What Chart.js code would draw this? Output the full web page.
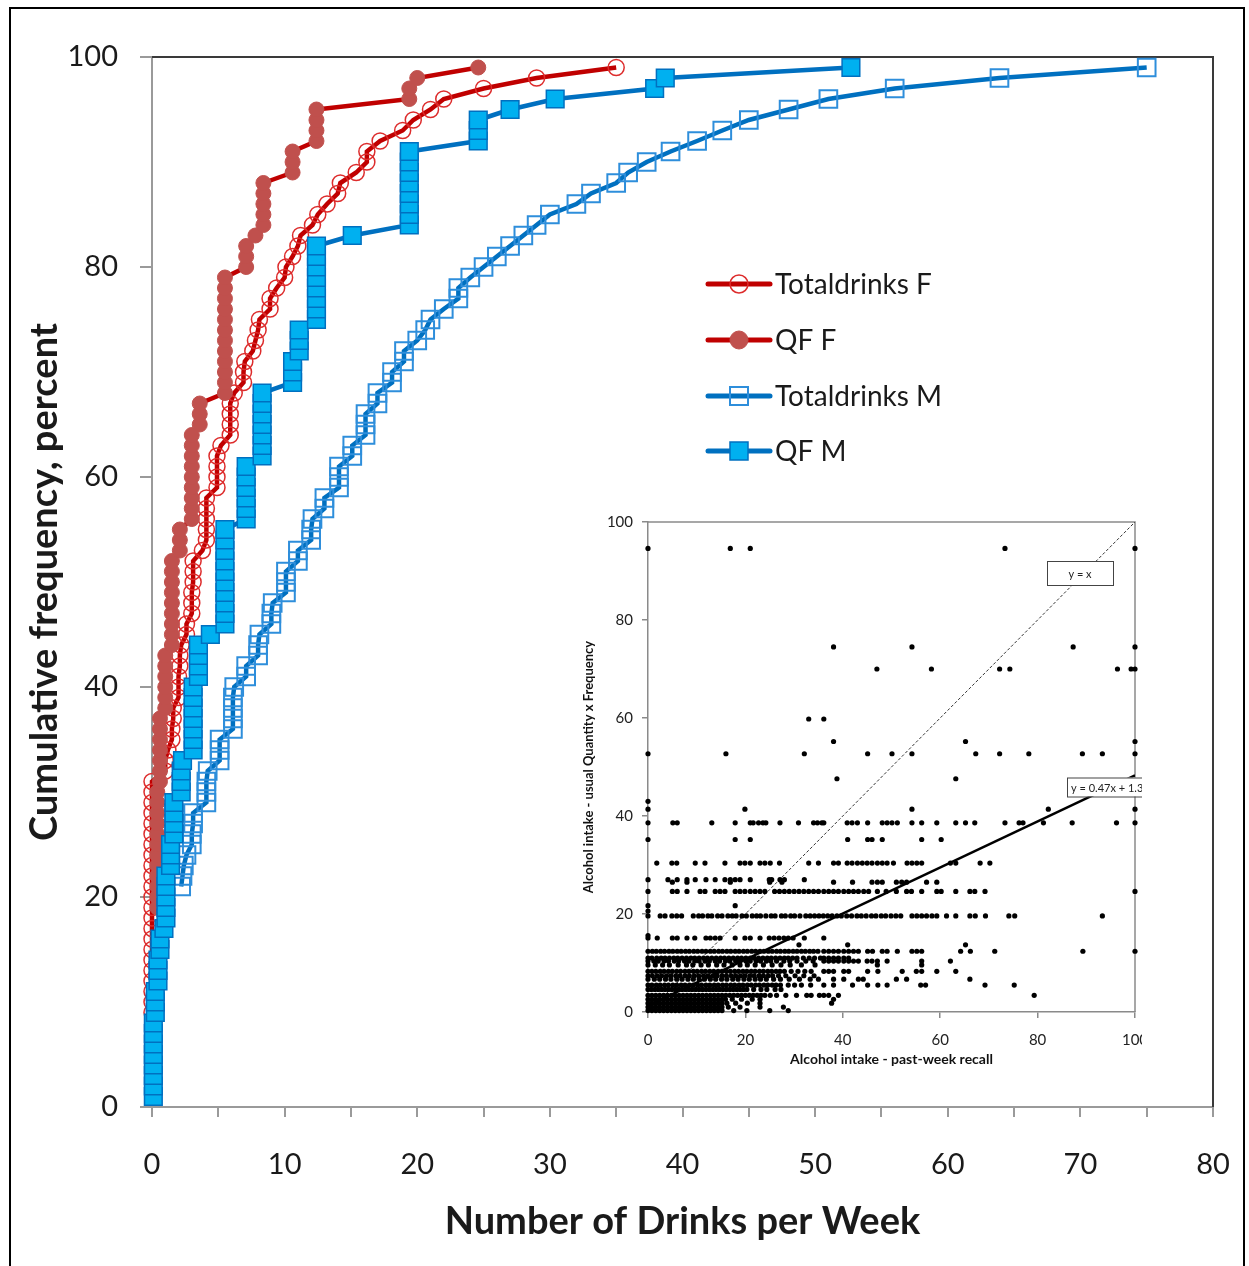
<!DOCTYPE html>
<html>
<head>
<meta charset="utf-8">
<title>Cumulative frequency of drinks per week</title>
<script src="https://cdn.jsdelivr.net/npm/chart.js@4.4.1/dist/chart.umd.min.js"></script>
<style>
  html, body { margin: 0; padding: 0; background: #fff; overflow: hidden; }
  #page { position: relative; width: 1249px; height: 1266px; }
  #mainChart { position: absolute; left: 0; top: 0; }
  #frame { position: absolute; left: 9px; top: 7px; width: 1236px; height: 1300px;
           border: 2px solid #000; box-sizing: border-box; pointer-events: none; }
  #insetBox { position: absolute; left: 578px; top: 510px; width: 564px; height: 566px;
              overflow: hidden; background: #fff; }
  #insetChart { position: absolute; left: 0; top: 0; }
</style>
</head>
<body>
<div id="page">
  <canvas id="mainChart" width="1249" height="1266"></canvas>
  <div id="insetBox"><canvas id="insetChart" width="620" height="566"></canvas></div>
  <div id="frame"></div>
</div>

<script>
// ---- main chart: cumulative frequency (%) vs drinks per week ----
const seriesNames = ['Totaldrinks F', 'QF F', 'Totaldrinks M', 'QF M'];

// Totaldrinks F (open red circles)
const totalF_drinks = [0,0,0,0,0,0,0,0,0,0,0,0,0,0,0,0,0,0,0,0,0,0,0,
  1.0,1.0,1.2,1.5,1.5,1.6,1.6,2.0,2.0,2.0,2.1,2.1,2.2,2.6,2.6,3.0,3.0,3.0,3.1,3.1,3.1,3.8,
  4.1,4.1,4.1,4.1,4.1,4.9,4.9,4.9,4.9,5.2,5.9,5.9,5.9,5.9,6.2,6.9,6.9,7.0,7.6,7.8,8.0,8.1,
  8.9,8.9,9.4,10.0,10.1,10.6,11.0,11.2,12.1,12.5,13.2,14.0,14.2,15.4,16.2,16.2,17.2,18.9,
  19.7,21.0,22.0,25.0,29.0,35.0];
const totalF_cum = [9,10,11,12,13,14,15,16,17,18,19,20,21,22,23,24,25,26,27,28,29,30,31,
  32,33,34,35,36,37,38,39,40,41,42,43,44,45,46,47,48,49,50,51,52,53,
  54,55,56,57,58,59,60,61,62,63,64,65,66,67,68,69,70,71,72,73,74,75,
  76,77,78,79,80,81,82,83,84,85,86,87,88,89,90,91,92,93,
  94,95,96,97,98,99];

// QF F (filled red circles)
const qfF_drinks = [0.4,0.4,0.4,0.4,0.4,0.4,0.4,0.4,0.4,0.4,0.4,0.4,
  0.6,0.6,0.6,0.6,0.6,0.6,0.6,1.0,1.0,1.0,1.0,1.0,1.0,
  1.5,1.5,1.5,1.5,1.5,1.5,1.5,1.5,1.5,2.1,2.1,2.1,
  3.0,3.0,3.0,3.0,3.0,3.0,3.0,3.0,3.0,3.6,3.6,3.6,
  5.5,5.5,5.5,5.5,5.5,5.5,5.5,5.5,5.5,5.5,5.5,5.5,
  7.1,7.1,7.1,7.8,8.4,8.4,8.4,8.4,8.4,10.6,10.6,10.6,
  12.4,12.4,12.4,12.4,19.4,19.4,20.0,24.6];
const qfF_cum = [19,20,21,22,23,24,25,26,27,28,29,30,
  31,32,33,34,35,36,37,38,39,40,41,42,43,
  44,45,46,47,48,49,50,51,52,53,54,55,
  56,57,58,59,60,61,62,63,64,65,66,67,
  68,69,70,71,72,73,74,75,76,77,78,79,
  80,81,82,83,84,85,86,87,88,89,90,91,
  92,93,94,95,96,97,98,99];

// Totaldrinks M (open blue squares)
const totalM_drinks = [2.2,2.3,2.4,2.6,3.0,3.0,3.1,3.1,4.1,4.1,4.1,4.2,5.1,5.1,5.1,
  6.1,6.1,6.1,6.1,6.2,7.1,7.1,8.0,8.0,8.1,9.0,9.0,9.1,10.1,10.1,10.1,11.0,11.0,
  12.0,12.0,12.1,13.0,13.0,14.1,14.1,14.1,15.1,15.1,16.1,16.1,16.1,17.0,17.0,
  18.1,18.1,19.0,19.0,20.0,20.6,21.0,22.0,23.1,23.1,24.0,25.0,26.0,27.0,28.0,
  29.0,30.0,32.0,33.1,35.0,35.9,37.3,39.1,41.1,43.0,45.0,48.0,51.0,56.0,63.9,75.0];
const totalM_cum = [21,22,23,24,25,26,27,28,29,30,31,32,33,34,35,
  36,37,38,39,40,41,42,43,44,45,46,47,48,49,50,51,52,53,
  54,55,56,57,58,59,60,61,62,63,64,65,66,67,68,
  69,70,71,72,73,74,75,76,77,78,79,80,81,82,83,
  84,85,86,87,88,89,90,91,92,93,94,95,96,97,98,99];

// QF M (filled blue squares)
const qfM_drinks = [0.1,0.1,0.1,0.1,0.1,0.1,0.1,0.1,0.25,0.25,0.25,0.45,0.45,0.45,
  0.6,0.6,0.9,1.05,1.05,1.05,1.05,1.05,1.4,1.4,1.4,1.65,1.65,1.65,1.65,
  2.2,2.2,2.2,2.3,3.1,3.1,3.1,3.1,3.1,3.1,3.1,3.5,3.5,3.5,3.5,4.4,
  5.5,5.5,5.5,5.5,5.5,5.5,5.5,5.5,5.5,5.5,7.1,7.1,7.1,7.1,7.1,7.1,
  8.3,8.3,8.3,8.3,8.3,8.3,8.3,10.6,10.6,10.6,11.1,11.1,11.1,
  12.4,12.4,12.4,12.4,12.4,12.4,12.4,12.4,15.1,
  19.4,19.4,19.4,19.4,19.4,19.4,19.4,19.4,24.6,24.6,24.6,27.0,30.4,37.9,38.7,52.7];
const qfM_cum = [1,2,3,4,5,6,7,8,9,10,11,12,13,14,
  15,16,17,18,19,20,21,22,23,24,25,26,27,28,29,
  30,31,32,33,34,35,36,37,38,39,40,41,42,43,44,45,
  46,47,48,49,50,51,52,53,54,55,56,57,58,59,60,61,
  62,63,64,65,66,67,68,69,70,71,72,73,74,
  75,76,77,78,79,80,81,82,83,
  84,85,86,87,88,89,90,91,92,93,94,95,96,97,98,99];

const xTicksMain = [0, 10, 20, 30, 40, 50, 60, 70, 80];
const yTicksMain = [0, 20, 40, 60, 80, 100];

// ---- inset: QF estimate vs past-week recall ----
const qfLevels = [94.6, 74.5, 70.0, 59.8, 55.2, 52.7, 47.6, 43.0, 41.4, 38.6, 35.2,
  30.4, 27.0, 26.5, 24.6, 21.7, 20.6, 19.6, 15.6, 15.1, 13.7, 12.4, 11.0, 10.4, 9.6,
  8.3, 7.4, 6.7, 5.5, 4.6, 3.4, 2.6, 1.8, 1.0, 0.3];
const recallByLevel = [
  [0, 16.9, 21.0, 73.3, 100],
  [38.1, 54.2, 87.3, 100],
  [47.0, 58.2, 72.2, 74.3, 96.4, 99.2, 100],
  [33.0, 36.1],
  [38.1, 65.2, 100],
  [0, 16.0, 32.1, 45.1, 50.1, 54.2, 67.3, 72.2, 78.2, 89.2, 93.3, 100],
  [38.8, 63.2],
  [0],
  [0, 19.9, 54.2, 82.2, 100],
  [0, 5.1, 6.0, 13.1, 17.9, 21.0, 21.6, 22.7, 23.6, 24.2, 27.1, 30.9, 34.0, 34.8, 35.7,
   36.1, 40.9, 41.9, 43.0, 45.1, 48.1, 49.1, 50.1, 51.2, 54.2, 56.2, 59.3, 63.2, 65.2,
   67.1, 73.3, 76.2, 77.0, 81.2, 87.1, 96.2, 100],
  [0, 17.9, 21.0, 41.0, 45.1, 46.0, 48.1, 56.2, 60.2],
  [1.8, 4.9, 5.9, 9.7, 11.7, 15.8, 18.9, 19.9, 21.0, 23.0, 24.0, 25.1, 27.0, 33.0, 35.0,
   38.1, 39.1, 40.9, 41.9, 43.0, 44.0, 45.0, 46.0, 47.1, 48.1, 49.1, 50.4, 53.2, 54.2,
   55.2, 56.2, 62.1, 63.2, 68.2, 70.2],
  [0, 4.1, 6.0, 8.0, 9.7, 11.9, 13.8, 15.8, 16.9, 17.9, 18.9, 21.0, 24.9, 25.4, 27.1, 28.0, 32.1],
  [5.0, 8.0, 16.9, 25.0, 27.5, 38.1, 42.0, 46.0, 47.1, 48.1, 51.0, 52.1, 53.1, 57.2, 59.3],
  [0, 5.0, 6.0, 8.0, 10.7, 11.7, 13.8, 14.8, 15.8, 17.9, 18.9, 19.9, 21.0, 22.0, 23.0, 24.0,
   26.0, 27.0, 28.0, 29.0, 30.0, 31.0, 32.0, 33.0, 34.0, 35.0, 36.1, 37.1, 38.1, 39.1, 40.2,
   41.2, 42.2, 43.2, 44.3, 45.3, 47.1, 48.9, 51.0, 53.1, 54.1, 56.2, 59.3, 60.2, 63.2, 66.1,
   67.1, 69.2, 100],
  [0, 17.9],
  [0],
  [0, 2.5, 3.5, 4.9, 5.9, 6.9, 9.3, 10.4, 11.2, 12.3, 13.1, 14.3, 15.2, 16.4, 17.3, 18.1,
   19.3, 20.2, 21.4, 22.3, 23.1, 24.2, 25.3, 26.1, 27.4, 28.2, 29.3, 30.1, 31.2, 32.4, 33.3,
   34.2, 35.1, 36.0, 36.9, 37.8, 38.8, 39.7, 40.8, 41.8, 42.9, 43.8, 44.8, 45.9, 46.8, 47.9,
   48.8, 49.9, 50.9, 51.9, 54.2, 55.2, 56.2, 57.2, 58.3, 59.3, 61.3, 63.2, 66.1, 67.2, 69.3,
   74.1, 75.3, 93.3],
  [0],
  [0, 1.9, 5.0, 6.0, 8.0, 9.6, 11.9, 12.8, 13.8, 14.8, 17.9, 19.9, 21.0, 23.0, 24.9, 25.9,
   26.9, 27.9, 28.8, 29.8, 32.1, 36.1],
  [31.0, 41.0, 65.2],
  [0, 0.9, 1.7, 2.6, 3.4, 4.3, 5.1, 6.0, 6.8, 7.7, 8.5, 9.4, 10.2, 11.1, 11.9, 12.8, 13.6,
   14.5, 15.3, 16.2, 17.0, 17.9, 18.7, 19.6, 20.4, 21.3, 22.1, 23.0, 23.8, 24.7, 25.5, 26.4,
   27.2, 28.1, 28.9, 29.8, 30.6, 31.5, 32.3, 33.2, 34.0, 34.9, 36.1, 37.1, 38.1, 39.1, 40.2,
   41.2, 42.2, 43.2, 45.1, 46.1, 48.1, 49.1, 51.2, 54.2, 55.2, 56.2, 64.2, 66.2, 71.2, 89.3, 100],
  [0, 0.8, 1.8, 2.7, 3.5, 4.4, 5.3, 6.1, 7.0, 7.9, 8.8, 9.6, 10.5, 11.4, 12.2, 13.1, 14.0,
   14.9, 15.7, 16.6, 17.5, 18.4, 19.2, 20.1, 21.0, 21.8, 22.7, 23.6, 24.5, 25.3, 26.2, 27.1,
   28.0, 28.8, 29.7, 30.6, 31.9, 33.1, 34.2, 35.4, 36.1, 37.1, 38.1, 39.1, 40.2, 41.2],
  [0, 1.2, 2.1, 3.3, 4.2, 5.4, 6.3, 7.5, 8.4, 9.6, 10.5, 11.7, 12.6, 13.8, 14.7, 15.9, 16.8,
   18.0, 18.9, 20.1, 21.0, 22.2, 23.1, 24.3, 25.2, 26.4, 27.9, 29.1, 30.6, 32.4, 33.9, 36.1,
   37.1, 38.1, 39.1, 40.2, 41.2, 42.2, 43.2, 45.0, 46.0, 47.1, 49.1, 56.2, 62.1],
  [0, 1.5, 3.0, 4.4, 6.2, 7.9, 9.2, 10.9, 12.4, 14.1, 15.6, 17.3, 18.9, 20.4, 22.0, 23.7,
   25.5, 27.3, 29.2, 31.5, 34.3, 47.1, 56.2],
  [0, 0.8, 1.6, 2.5, 3.3, 4.2, 5.0, 5.9, 6.7, 7.6, 8.4, 9.3, 10.1, 11.0, 11.8, 12.7, 13.5,
   14.4, 15.2, 16.1, 16.9, 17.8, 18.6, 19.5, 20.3, 21.2, 22.0, 22.9, 23.7, 24.6, 25.4, 26.3,
   27.1, 28.0, 29.4, 30.8, 32.2, 33.5, 36.1, 37.1, 38.1, 40.2, 41.2, 45.1, 47.2, 52.2, 55.1,
   56.2, 59.3, 63.2],
  [0, 0.9, 1.9, 2.8, 3.8, 4.7, 5.7, 6.6, 7.6, 8.5, 9.5, 10.4, 11.4, 12.3, 13.3, 14.2, 15.2,
   16.1, 17.1, 18.0, 19.0, 19.9, 20.9, 21.8, 22.8, 23.7, 24.7, 25.6, 26.8, 28.3, 30.2, 32.0, 34.1],
  [0, 1.3, 2.4, 3.6, 4.7, 5.9, 7.0, 8.2, 9.3, 10.5, 11.6, 12.8, 13.9, 15.1, 16.2, 17.4, 18.5,
   19.7, 20.8, 22.0, 23.1, 24.3, 25.8, 27.2, 29.0, 31.1, 33.3, 35.0, 38.1, 40.2, 43.2, 44.2,
   51.0, 53.1, 66.1],
  [0, 0.8, 1.7, 2.5, 3.4, 4.2, 5.1, 5.9, 6.8, 7.6, 8.5, 9.3, 10.2, 11.0, 11.9, 12.7, 13.6,
   14.4, 15.3, 16.1, 17.0, 17.8, 18.7, 19.5, 20.4, 21.2, 22.1, 22.9, 23.8, 24.6, 25.5, 26.3,
   27.2, 28.8, 30.1, 31.5, 33.4, 36.1, 38.1, 42.0, 45.1, 47.2, 49.1, 56.0, 57.0, 69.2, 75.2],
  [0, 0.7, 1.4, 2.1, 2.8, 3.5, 4.2, 4.9, 5.6, 6.3, 7.0, 7.7, 8.4, 9.1, 9.8, 10.5, 11.2, 11.9,
   12.6, 13.3, 14.0, 14.7, 15.4, 16.1, 16.8, 17.5, 18.2, 18.9, 19.6, 20.3, 21.7, 23.2, 24.4,
   26.1, 27.3],
  [0, 0.8, 1.6, 2.4, 3.2, 4.0, 4.8, 5.6, 6.4, 7.2, 8.0, 8.8, 9.6, 10.4, 11.2, 12.0, 12.8,
   13.6, 14.4, 15.2, 16.0, 16.8, 17.6, 18.4, 19.2, 20.0, 20.8, 21.6, 22.4, 23.2, 24.0, 25.1,
   26.4, 28.3, 30.5, 32.6, 33.5, 35.2, 36.1, 37.1, 39.1, 79.3],
  [0, 0.8, 1.6, 2.4, 3.2, 4.0, 4.8, 5.6, 6.4, 7.2, 8.0, 8.8, 9.6, 10.4, 11.2, 12.0, 12.8,
   13.6, 14.4, 15.2, 15.9, 17.3, 19.2, 21.4, 23.0, 38.1],
  [0, 0.8, 1.6, 2.4, 3.2, 4.0, 4.8, 5.6, 6.4, 7.2, 8.0, 8.8, 9.6, 10.4, 11.2, 12.0, 12.8,
   13.6, 14.4, 15.2, 16.2, 18.0, 20.4, 23.0, 37.7],
  [0, 0.8, 1.6, 2.4, 3.2, 4.0, 4.8, 5.6, 6.4, 7.2, 8.0, 8.8, 9.6, 10.4, 11.2, 12.0, 12.8,
   13.6, 14.4, 15.2, 16.5, 18.9, 23.0, 27.8],
  [0, 0.8, 1.6, 2.4, 3.2, 4.0, 4.8, 5.6, 6.4, 7.2, 8.0, 8.8, 9.6, 10.4, 11.2, 12.0, 12.8,
   13.6, 14.4, 15.2, 17.6, 20.3, 25.0, 28.8]
];
const fitSlope = 0.47;
const fitIntercept = 1.3;
const insetTicks = [0, 20, 40, 60, 80, 100];

// ---- helpers ----
const FONT = 'Lato, "Open Sans", sans-serif';
const toPoints = (xs, ys) => xs.map((x, i) => ({ x: x, y: ys[i] }));

const RED_LINE = '#C00000', RED_RING = '#DD2C2C', RED_FILL = '#C0504D';
const BLUE_LINE = '#0070C0', BLUE_RING = '#2E8EDB', BLUE_FILL = '#00B0F0';

// keep label overflow from pushing the plot area around
const noLabelPadding = s => { s.paddingLeft = 0; s.paddingRight = 0; s.paddingTop = 0; s.paddingBottom = 0; };

// top and right border of the plot area
const plotFrame = {
  id: 'plotFrame',
  beforeDatasetsDraw(chart, args, opts) {
    const a = chart.chartArea, ctx = chart.ctx;
    ctx.save();
    ctx.strokeStyle = opts.color;
    ctx.lineWidth = opts.width;
    ctx.beginPath();
    ctx.moveTo(a.left, a.top);
    ctx.lineTo(a.right, a.top);
    ctx.lineTo(a.right, a.bottom);
    ctx.stroke();
    ctx.restore();
  }
};

// legend drawn inside the plot, Excel style
const insideLegend = {
  id: 'insideLegend',
  afterDatasetsDraw(chart) {
    const ctx = chart.ctx;
    const x0 = 708, x1 = 770, xm = 739, tx = 775;
    const rows = [284, 340, 396, 451];
    ctx.save();
    chart.data.datasets.forEach((ds, i) => {
      const y = rows[i];
      ctx.strokeStyle = ds.borderColor;
      ctx.lineWidth = 5;
      ctx.lineCap = 'round';
      ctx.beginPath(); ctx.moveTo(x0, y); ctx.lineTo(x1, y); ctx.stroke();
      ctx.lineCap = 'butt';
      ctx.lineWidth = ds.pointBorderWidth;
      ctx.strokeStyle = ds.pointBorderColor;
      ctx.fillStyle = ds.pointBackgroundColor;
      ctx.beginPath();
      if (ds.pointStyle === 'circle') ctx.arc(xm, y, 9, 0, Math.PI * 2);
      else ctx.rect(xm - 9, y - 9, 18, 18);
      ctx.fill(); ctx.stroke();
      ctx.fillStyle = '#1a1a1a';
      ctx.font = '28px ' + FONT;
      ctx.textBaseline = 'middle';
      ctx.fillText(ds.label, tx, y + 1);
    });
    ctx.restore();
  }
};

new Chart(document.getElementById('mainChart'), {
  type: 'line',
  data: {
    datasets: [
      { label: seriesNames[0], data: toPoints(totalF_drinks, totalF_cum), order: 4,
        borderColor: RED_LINE, borderWidth: 4.5, pointStyle: 'circle', pointRadius: 8,
        pointBorderColor: RED_RING, pointBackgroundColor: 'rgba(255,255,255,0)', pointBorderWidth: 1.5 },
      { label: seriesNames[1], data: toPoints(qfF_drinks, qfF_cum), order: 3,
        borderColor: RED_LINE, borderWidth: 4.5, pointStyle: 'circle', pointRadius: 7.5,
        pointBorderColor: RED_FILL, pointBackgroundColor: RED_FILL, pointBorderWidth: 1 },
      { label: seriesNames[2], data: toPoints(totalM_drinks, totalM_cum), order: 2,
        borderColor: BLUE_LINE, borderWidth: 4.5, pointStyle: 'rect', pointRadius: 12.5,
        pointBorderColor: BLUE_RING, pointBackgroundColor: 'rgba(255,255,255,0)', pointBorderWidth: 2 },
      { label: seriesNames[3], data: toPoints(qfM_drinks, qfM_cum), order: 1,
        borderColor: BLUE_LINE, borderWidth: 4.5, pointStyle: 'rect', pointRadius: 12.5,
        pointBorderColor: BLUE_LINE, pointBackgroundColor: BLUE_FILL, pointBorderWidth: 1.5 }
    ].map(d => Object.assign(d, { tension: 0, fill: false, clip: false, pointHoverRadius: d.pointRadius }))
  },
  options: {
    responsive: false,
    animation: false,
    devicePixelRatio: 1,
    events: [],
    layout: { padding: { left: 10, top: 57, right: 36, bottom: 0 } },
    plugins: {
      legend: { display: false },
      tooltip: { enabled: false },
      plotFrame: { color: '#3a3a3a', width: 2 }
    },
    scales: {
      x: {
        type: 'linear', min: 0, max: 80,
        afterBuildTicks: s => {
          const t = [];
          for (let v = 0; v <= 80; v += 5) t.push({ value: v });
          s.ticks = t;
        },
        ticks: {
          autoSkip: false, maxRotation: 0, padding: 30, color: '#1a1a1a',
          font: { family: FONT, size: 29 },
          callback: v => xTicksMain.includes(v) ? String(v) : ''
        },
        grid: { drawOnChartArea: false, tickLength: 10, color: '#9a9a9a', lineWidth: 2 },
        border: { color: '#9a9a9a', width: 2 },
        title: { display: true, text: 'Number of Drinks per Week', color: '#1a1a1a',
                 font: { family: FONT, size: 38, weight: 'bold' }, padding: { top: 0, bottom: 21 } },
        afterFit: s => { s.height = 159; noLabelPadding(s); }
      },
      y: {
        min: 0, max: 100,
        afterBuildTicks: s => { s.ticks = yTicksMain.map(v => ({ value: v })); },
        ticks: { padding: 22, color: '#1a1a1a', font: { family: FONT, size: 29 } },
        grid: { drawOnChartArea: false, tickLength: 12, color: '#9a9a9a', lineWidth: 2 },
        border: { color: '#9a9a9a', width: 2 },
        title: { display: true, text: 'Cumulative frequency, percent', color: '#1a1a1a',
                 font: { family: FONT, size: 38, weight: 'bold' }, padding: { top: 12, bottom: 0 } },
        afterFit: s => { s.width = 142; noLabelPadding(s); }
      }
    }
  },
  plugins: [plotFrame, insideLegend]
});

// ---- inset scatter ----
const qfPoints = [];
qfLevels.forEach((lv, i) => recallByLevel[i].forEach(x => qfPoints.push({ x: x, y: lv })));

const equationBoxes = {
  id: 'equationBoxes',
  afterDatasetsDraw(chart) {
    const ctx = chart.ctx, xs = chart.scales.x, ys = chart.scales.y;
    const boxes = [
      { text: 'y = x', x: 82, y: 89.6, w: 66, align: 'center' },
      { text: 'y = 0.47x + 1.3', x: 86, y: 46.0, w: 80, align: 'left' }
    ];
    ctx.save();
    ctx.font = '11px ' + FONT;
    ctx.textBaseline = 'middle';
    boxes.forEach(b => {
      const px = Math.round(xs.getPixelForValue(b.x)), py = Math.round(ys.getPixelForValue(b.y));
      const h = b.align === 'center' ? 24 : 19;
      ctx.fillStyle = '#fff';
      ctx.fillRect(px, py - h / 2, b.w, h);
      ctx.strokeStyle = '#444';
      ctx.lineWidth = 1;
      ctx.strokeRect(px + 0.5, py - h / 2 + 0.5, b.w, h);
      ctx.fillStyle = '#222';
      if (b.align === 'center') { ctx.textAlign = 'center'; ctx.fillText(b.text, px + b.w / 2, py + 1); }
      else { ctx.textAlign = 'left'; ctx.fillText(b.text, px + 4, py + 1); }
    });
    ctx.restore();
  }
};

new Chart(document.getElementById('insetChart'), {
  type: 'scatter',
  data: {
    datasets: [
      { label: 'QF vs recall', data: qfPoints, pointRadius: 2.6, pointBackgroundColor: '#000',
        pointBorderWidth: 0, showLine: false, clip: false },
      { label: 'y = x', type: 'line', data: [{ x: 0, y: 0 }, { x: 100, y: 100 }],
        borderColor: '#333', borderWidth: 1, borderDash: [3, 2], pointRadius: 0, tension: 0 },
      { label: 'fit', type: 'line',
        data: [{ x: 0, y: fitIntercept }, { x: 100, y: fitIntercept + fitSlope * 100 }],
        borderColor: '#000', borderWidth: 2.5, pointRadius: 0, tension: 0 }
    ]
  },
  options: {
    responsive: false,
    animation: false,
    devicePixelRatio: 1,
    events: [],
    layout: { padding: { left: 2, top: 12, right: 63, bottom: 0 } },
    plugins: {
      legend: { display: false },
      tooltip: { enabled: false },
      plotFrame: { color: '#8a8a8a', width: 1.5 }
    },
    scales: {
      x: {
        type: 'linear', min: 0, max: 100,
        afterBuildTicks: s => { s.ticks = insetTicks.map(v => ({ value: v })); },
        ticks: { padding: 13, color: '#222', font: { family: FONT, size: 15 }, maxRotation: 0, autoSkip: false },
        grid: { drawOnChartArea: false, tickLength: 6, color: '#8a8a8a', lineWidth: 1.5 },
        border: { color: '#8a8a8a', width: 1.5 },
        title: { display: true, text: 'Alcohol intake - past-week recall', color: '#111',
                 font: { family: FONT, size: 14, weight: 'bold' }, padding: { top: 0, bottom: 8 } },
        afterFit: s => { s.height = 64; noLabelPadding(s); }
      },
      y: {
        min: 0, max: 100,
        afterBuildTicks: s => { s.ticks = insetTicks.map(v => ({ value: v })); },
        ticks: { padding: 9, color: '#222', font: { family: FONT, size: 15 } },
        grid: { drawOnChartArea: false, tickLength: 6, color: '#8a8a8a', lineWidth: 1.5 },
        border: { color: '#8a8a8a', width: 1.5 },
        title: { display: true, text: 'Alcohol intake - usual Quantity x Frequency', color: '#111',
                 font: { family: FONT, size: 13, weight: 'bold' }, padding: { top: 1, bottom: 0 } },
        afterFit: s => { s.width = 68; noLabelPadding(s); }
      }
    }
  },
  plugins: [plotFrame, equationBoxes]
});
</script>
</body>
</html>
